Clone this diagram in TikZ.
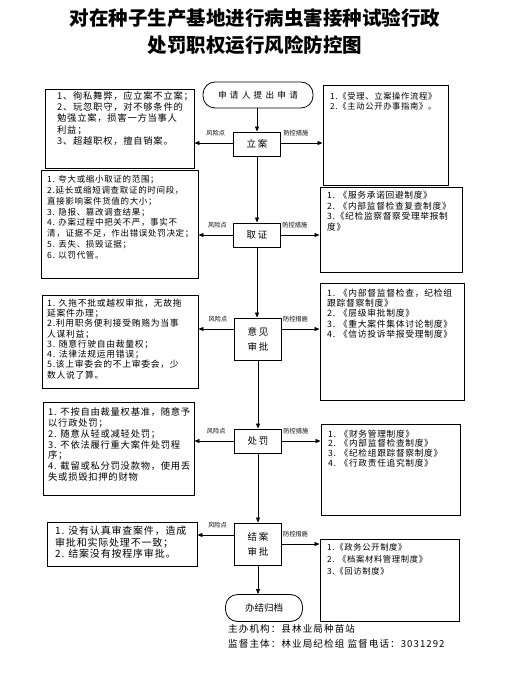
\documentclass[tikz,border=0pt]{standalone}
\usepackage{fontspec}
\newfontfamily\cjk{Noto Sans CJK SC}
\newfontfamily\cjksp[LetterSpace=8]{Noto Sans CJK SC}
\newfontfamily\cjkft[LetterSpace=11]{Noto Sans CJK SC}
\newfontfamily\cjkmid[LetterSpace=20]{Noto Sans CJK SC}
\newfontfamily\cjkwide[LetterSpace=38]{Noto Sans CJK SC}
\usetikzlibrary{arrows.meta}
\newcommand\rbox[5]{\node[box, minimum width={(#4)-(#2)}, minimum height={(#5)-(#3)}] (#1) at ({((#2)+(#4))/2},{((#3)+(#5))/2}) {};}
\begin{document}
\begin{tikzpicture}[x=1pt,y=-1pt,
  box/.style={draw, line width=0.9pt, inner sep=0, rectangle},
  mid/.style={draw, line width=0.9pt, inner sep=0, rectangle, font=\cjkmid\fontsize{9.5}{11}\selectfont, align=center},
  stad/.style={draw, line width=0.8pt, rounded corners=12pt, inner sep=0},
  txt/.style n args={2}{anchor=north west, inner sep=0, align=left, font=\cjksp\fontsize{#1}{#2}\selectfont},
  arr/.style={-{Triangle[length=5pt,width=4pt]}, line width=0.8pt},
  lab/.style={font=\cjk\fontsize{6.2}{7}\selectfont, inner sep=0},
  ttl/.style={font=\cjk\bfseries\fontsize{19.5}{22}\selectfont, inner sep=0},
  foot/.style={anchor=west, inner sep=0, font=\cjkft\fontsize{9.6}{11}\selectfont}]
\useasboundingbox (0,0) rectangle (511,676);
% title
\node[ttl] (t1) at (255,18) {对在种子生产基地进行病虫害接种试验行政};
\node[ttl] (t2) at (255,45) {处罚职权运行风险防控图};
% start / end
\node[stad, minimum width=110pt, minimum height=26pt, font=\cjkwide\fontsize{8.6}{10}\selectfont] (S) at (258,95) {申请人提出申请};
\node[stad, minimum width=77pt, minimum height=27pt, font=\cjk\fontsize{9.5}{10}\selectfont] (E) at (264,608) {办结归档};
% center nodes
\node[mid, minimum width=47pt, minimum height=24pt] (N1) at (257,144) {立案};
\node[mid, minimum width=47pt, minimum height=24pt] (N2) at (257,235) {取证};
\node[mid, minimum width=47pt, minimum height=42pt] (N3) at (258,339) {意见\\[4pt]审批};
\node[mid, minimum width=47pt, minimum height=24pt] (N4) at (258,441) {处罚};
\node[mid, minimum width=47pt, minimum height=42pt] (N5) at (258,544) {结案\\[4pt]审批};
% left boxes
\rbox{L1}{45}{89}{194}{168}
\rbox{L2}{41}{170}{198}{278}
\rbox{L3}{42}{295}{198}{388}
\rbox{L4}{43}{402}{194}{495}
\rbox{L5}{47}{522}{197}{566}
% right boxes
\rbox{R1}{323}{85}{448}{185}
\rbox{R2}{320}{187}{462}{272}
\rbox{R3}{320}{283}{464}{400}
\rbox{R4}{321}{424}{460}{515}
\rbox{R5}{320}{539}{459}{621}
% texts
\node[txt={9.3}{11.2}] (tL1) at (57,91.5) {1、徇私舞弊，应立案不立案；\\2、玩忽职守，对不够条件的\\勉强立案，损害一方当事人\\利益；\\3、超越职权，擅自销案。};
\node[txt={8.3}{10}] (tR1) at (330,92) {1.《受理、立案操作流程》\\2.《主动公开办事指南》。};
\node[txt={8.5}{10.9}] (tL2) at (47,175) {1. 夸大或缩小取证的范围；\\2.延长或缩短调查取证的时间段，\\直接影响案件货值的大小；\\3. 隐报、篡改调查结果；\\4. 办案过程中把关不严，事实不\\清，证据不足，作出错误处罚决定；\\5. 丢失、损毁证据；\\6. 以罚代管。};
\node[txt={8.7}{10.7}] (tR2) at (327,191) {1. 《服务承诺回避制度》\\2. 《内部监督检查复查制度》\\3.《纪检监察督察受理举报制\\度》};
\node[txt={8.8}{10.3}] (tL3) at (47,298.5) {1. 久拖不批或越权审批，无故拖\\延案件办理；\\2.利用职务便利接受贿赂为当事\\人谋利益；\\3. 随意行驶自由裁量权；\\4. 法律法规运用错误；\\5.该上审委会的不上审委会，少\\数人说了算。};
\node[txt={8.8}{10.3}] (tR3) at (327,288.5) {1. 《内部督监督检查，纪检组\\跟踪督察制度》\\2. 《层级审批制度》\\3. 《重大案件集体讨论制度》\\4. 《信访投诉举报受理制度》};
\node[txt={9.3}{10.8}] (tL4) at (48,407.5) {1. 不按自由裁量权基准，随意予\\以行政处罚；\\2. 随意从轻或减轻处罚；\\3. 不依法履行重大案件处罚程\\序；\\4. 截留或私分罚没款物，使用丢\\失或损毁扣押的财物};
\node[txt={8.7}{9.8}] (tR4) at (328,429.5) {1. 《财务管理制度》\\2. 《内部监督检查制度》\\3. 《纪检组跟踪督察制度》\\4. 《行政责任追究制度》};
\node[txt={10}{11.5}] (tL5) at (55,526) {1. 没有认真审查案件，造成\\审批和实际处理不一致；\\2. 结案没有按程序审批。};
\node[txt={8.3}{12.3}] (tR5) at (327,543) {1.《政务公开制度》\\2. 《档案材料管理制度》\\3.《回访制度》};
% footer
\node[foot] (f1) at (228,629) {主办机构：县林业局种苗站};
\node[foot] (f2) at (228,644) {监督主体：林业局纪检组\ 监督电话：3031292};
% vertical flow
\draw[arr] (S.south -| N1) -- (N1.north);
\draw[arr] (N1.south) -- (N2.north);
\draw[arr] (N2.south) -- (N3.north -| N2);
\draw[arr] (N3.south) -- (N4.north);
\draw[arr] (N4.south) -- (N5.north);
\draw[arr] (N5.south) -- (N5.south |- E.north);
% side arrows
\coordinate (y1) at (0,143);
\coordinate (y2) at (0,235);
\coordinate (y3) at (0,329);
\coordinate (y4) at (0,441);
\coordinate (y5l) at (0,535);
\coordinate (y5r) at (0,544);
\foreach \n/\l/\r/\yl/\yr in {N1/L1/R1/y1/y1, N2/L2/R2/y2/y2, N3/L3/R3/y3/y3, N4/L4/R4/y4/y4, N5/L5/R5/y5l/y5r}{
  \draw[arr] (\n.west |- \yl) -- (\l.east |- \yl) node[lab, pos=0.45, yshift=10pt] {风险点};
  \draw[arr] (\n.east |- \yr) -- (\r.west |- \yr) node[lab, pos=0.36, yshift=10pt] {防控措施};
}
\end{tikzpicture}
\end{document}
